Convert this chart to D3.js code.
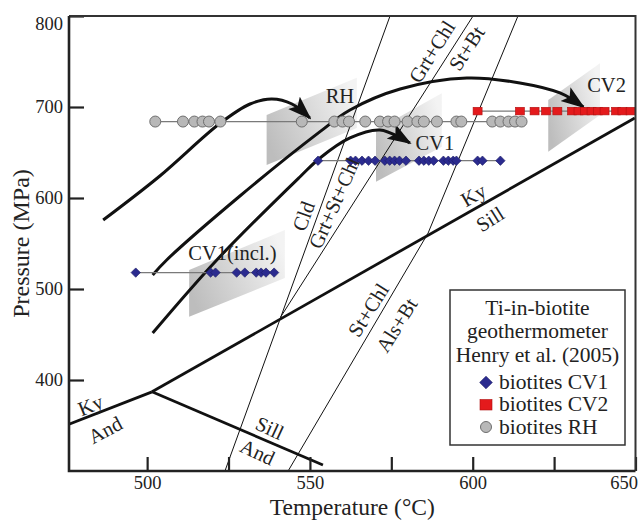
<!DOCTYPE html>
<html>
<head>
<meta charset="utf-8">
<script src="https://cdn.jsdelivr.net/npm/d3@7"></script>
<style>
  html, body { margin: 0; padding: 0; background: #fff; }
  svg { display: block; font-family: "Liberation Serif", "Times New Roman", serif; }
</style>
</head>
<body>
<svg id="chart" width="638" height="521"></svg>
<script>
// Ti-in-biotite temperatures (°C) for each group and the pressure (MPa) the row is plotted at
const rhTemps = [502.5, 511, 514.5, 517, 519, 522.5, 547.5, 557.5, 560, 562, 567, 571.5, 574, 576,
                 580, 583, 585, 589, 595, 596.5, 606, 608.5, 611, 613, 615];
const rhPressure = 684;
const cv1Temps = [552.5, 562.5, 564, 566, 568, 570, 573, 574.5, 576, 577.5, 579.5, 583.5, 585, 586.5,
                  588, 591, 592.5, 594, 595, 601.5, 603, 608.5];
const cv1Pressure = 641;
const cv1InclTemps = [496.5, 519.5, 521, 527.5, 530, 533.5, 535, 536.5, 539];
const cv1InclPressure = 518;
const cv2Temps = [601.5, 614.5, 619, 622.5, 626, 630.5, 632.5, 634.5, 636.5, 638.5, 640.5, 644, 646, 648.5];
const cv2Pressure = 695.5;

// Axis ticks and labels
const tempTicks = [500, 525, 550, 575, 600, 625, 650];
const tempLabels = [500, 550, 600, 650];
const pressureTicks = [400, 500, 600, 700, 800];

// Al2SiO5 phase boundaries, [T °C, P MPa]
const kyAnd = [[476, 351.5], [501.5, 387]];
const kySill = [[501.5, 387], [649.8, 687.9]];
const sillAnd = [[501.5, 387], [554, 306.6]];

// Reaction lines, [T, P]
const cldReaction = [[523.9, 300], [574.6, 800]];
const grtChlReaction = [[541, 469.2], [600.1, 800]];
const stChlReaction = [[543.3, 300], [586.3, 561.5], [613.9, 800]];

// P–T paths, [T, P]
const pathRH = [[486.5, 575.8], [503.9, 624.2], [522.4, 682.1], [531.6, 703.3], [538.3, 708.8], [544.5, 703.3], [550, 687.9]];
const pathCV2 = [[501.7, 515.4], [506, 531.9], [528.5, 602.2], [553.1, 672.9], [562.3, 696.7], [577.7, 719.8],
                 [598.2, 731.9], [614.5, 726.4], [626.8, 715.4], [634, 700]];
const pathCV1 = [[501.7, 451.6], [521.4, 531.9], [546.9, 623.1], [553.1, 644], [562.3, 666], [571.5, 674.7], [580.7, 660.4]];

// Shaded fields around each temperature group, [T, P] corners
const shadeRH = [[536.7, 691.2], [564.4, 732.2], [564.4, 676.9], [536.7, 636.3]];
const shadeCV1 = [[570.3, 674.7], [590.5, 715.1], [590.5, 656.4], [570.3, 617.9]];
const shadeCV2 = [[623.2, 707.7], [639.1, 748.0], [639.1, 691.2], [623.2, 650.9]];
const shadeCV1incl = [[512.9, 520.9], [542.3, 564.8], [542.3, 512.1], [512.9, 469.6]];

// Field and reaction labels, [T, P] centre and rotation
const labels = [
  { text: "RH", t: 559.2, p: 712.1, a: 0 },
  { text: "CV1", t: 588.4, p: 660.4, a: 0 },
  { text: "CV2", t: 641.1, p: 724.2, a: 0 },
  { text: "CV1(incl.)", t: 526.2, p: 539.6, a: 0 },
  { text: "Cld", t: 548.0, p: 580.2, a: -70 },
  { text: "Grt+St+Chl", t: 557.4, p: 594.5, a: -66 },
  { text: "Grt+Chl", t: 587.4, p: 760.8, a: -58 },
  { text: "St+Bt", t: 598.1, p: 764.5, a: -57 },
  { text: "Ky", t: 600.2, p: 603.3, a: -30 },
  { text: "Sill", t: 605.3, p: 576.9, a: -32 },
  { text: "Ky", t: 482.6, p: 372.5, a: -22 },
  { text: "And", t: 487.1, p: 345.1, a: -28 },
  { text: "Sill", t: 537.7, p: 347.3, a: 25 },
  { text: "And", t: 533.9, p: 320.9, a: 25 },
  { text: "St+Chl", t: 567.9, p: 476.9, a: -58 },
  { text: "Als+Bt", t: 576.6, p: 460.4, a: -58 }
];

const serif = "Liberation Serif, Times New Roman, serif";
const svg = d3.select("#chart");
const x = d3.scaleLinear().domain([476, 650]).range([69, 635.5]);
const y = d3.scaleLinear().domain([300, 800]).range([471, 16]);
const ink = "#222";

const defs = svg.append("defs");
defs.append("clipPath").attr("id", "plot-clip")
  .append("rect").attr("x", 69).attr("y", 16).attr("width", 566.5).attr("height", 455);

const grad = defs.append("linearGradient").attr("id", "shade")
  .attr("x1", 0).attr("y1", 0.7).attr("x2", 1).attr("y2", 0.3);
grad.append("stop").attr("offset", "0%").attr("stop-color", "#bdbdbd");
grad.append("stop").attr("offset", "100%").attr("stop-color", "#f3f3f3");

defs.append("marker").attr("id", "arrow")
  .attr("viewBox", "0 -9 24 18").attr("refX", 22).attr("refY", 0)
  .attr("markerWidth", 24).attr("markerHeight", 18)
  .attr("markerUnits", "userSpaceOnUse").attr("orient", "auto")
  .append("path").attr("d", "M0,-8.5L24,0L0,8.5L5,0Z").attr("fill", "#111");

const plot = svg.append("g").attr("clip-path", "url(#plot-clip)");
const pt = d => [x(d[0]), y(d[1])];

// shaded fields
plot.selectAll("polygon.shade")
  .data([shadeRH, shadeCV1, shadeCV2, shadeCV1incl])
  .join("polygon").attr("class", "shade")
  .attr("points", d => d.map(pt).map(p => p.join(",")).join(" "))
  .attr("fill", "url(#shade)");

// labels
svg.append("g").selectAll("text").data(labels).join("text")
  .attr("transform", d => `translate(${x(d.t)},${y(d.p)}) rotate(${d.a})`)
  .attr("text-anchor", "middle").attr("dy", "0.35em")
  .attr("font-family", serif).attr("font-size", 20.5).attr("fill", ink)
  .text(d => d.text);

const straight = d3.line().x(d => x(d[0])).y(d => y(d[1]));

// reaction lines
plot.selectAll("path.rxn")
  .data([cldReaction, grtChlReaction, stChlReaction])
  .join("path").attr("class", "rxn")
  .attr("d", straight).attr("fill", "none").attr("stroke", "#111").attr("stroke-width", 1);

// Al2SiO5 boundaries
plot.selectAll("path.als")
  .data([kyAnd, kySill, sillAnd])
  .join("path").attr("class", "als")
  .attr("d", straight).attr("fill", "none").attr("stroke", "#111")
  .attr("stroke-width", 2.8).attr("stroke-linejoin", "round");

// P–T paths with arrowheads
const smooth = d3.line().x(d => x(d[0])).y(d => y(d[1])).curve(d3.curveCatmullRom.alpha(0.5));
plot.selectAll("path.ptt")
  .data([pathRH, pathCV2, pathCV1])
  .join("path").attr("class", "ptt")
  .attr("d", smooth).attr("fill", "none").attr("stroke", "#111")
  .attr("stroke-width", 3).attr("marker-end", "url(#arrow)");

// data rows
function rowLine(temps, p) {
  plot.append("line")
    .attr("x1", x(d3.min(temps))).attr("x2", x(d3.max(temps)))
    .attr("y1", y(p)).attr("y2", y(p))
    .attr("stroke", "#7a7a7a").attr("stroke-width", 1.2);
}
rowLine(rhTemps, rhPressure);
rowLine(cv1Temps, cv1Pressure);
rowLine(cv1InclTemps, cv1InclPressure);
rowLine(cv2Temps, cv2Pressure);

plot.append("g").selectAll("circle").data(rhTemps).join("circle")
  .attr("cx", d => x(d)).attr("cy", y(rhPressure)).attr("r", 5.5)
  .attr("fill", "#b8b8b8").attr("stroke", "#6e6e6e").attr("stroke-width", 1);

const diamond = d3.symbol().type(d3.symbolSquare).size(44);
plot.append("g").selectAll("path").data(cv1Temps.map(t => [t, cv1Pressure]).concat(cv1InclTemps.map(t => [t, cv1InclPressure])))
  .join("path")
  .attr("transform", d => `translate(${x(d[0])},${y(d[1])}) rotate(45)`)
  .attr("d", diamond).attr("fill", "#2b2b8f").attr("stroke", "#1c1c66").attr("stroke-width", 0.6);

plot.append("g").selectAll("rect").data(cv2Temps).join("rect")
  .attr("x", d => x(d) - 4.5).attr("y", y(cv2Pressure) - 3.8)
  .attr("width", 9).attr("height", 7.6)
  .attr("fill", "#e41a1c").attr("stroke", "#b01010").attr("stroke-width", 0.6);

// axes
const xAxis = d3.axisBottom(x).tickValues(tempTicks).tickSizeInner(-14).tickSizeOuter(0).tickPadding(5)
  .tickFormat(d => tempLabels.includes(d) ? d : "");
const gx = svg.append("g").attr("transform", "translate(0,471)").call(xAxis);
const yAxis = d3.axisLeft(y).tickValues(pressureTicks).tickSizeInner(-15).tickSizeOuter(0).tickPadding(6);
const gy = svg.append("g").attr("transform", "translate(69,0)").call(yAxis);
[gx, gy].forEach(g => {
  g.attr("font-family", serif);
  g.select(".domain").remove();
  g.selectAll(".tick line").attr("stroke", ink).attr("stroke-width", 2.2);
  g.selectAll(".tick text").attr("font-size", 18.5).attr("fill", ink).attr("font-family", serif);
});
gy.selectAll(".tick").filter(d => d === 800).select("text").attr("dy", "0.72em");
gx.selectAll(".tick").filter(d => d === 650).select("text").attr("dx", -12);

// frame
svg.append("path")
  .attr("d", "M69,16H635.5V471")
  .attr("fill", "none").attr("stroke", "#333").attr("stroke-width", 2);
svg.append("path")
  .attr("d", "M69,16V471H635.5")
  .attr("fill", "none").attr("stroke", ink).attr("stroke-width", 2.6);

// axis titles
svg.append("text").attr("x", 352.3).attr("y", 515).attr("text-anchor", "middle")
  .attr("font-family", serif).attr("font-size", 23.5).attr("fill", ink).text("Temperature (°C)");
svg.append("text").attr("transform", "translate(29,243.5) rotate(-90)").attr("text-anchor", "middle")
  .attr("font-family", serif).attr("font-size", 24).attr("fill", ink).text("Pressure (MPa)");

// legend
const lg = svg.append("g").attr("font-family", serif);
lg.append("rect").attr("x", 450).attr("y", 290).attr("width", 175).attr("height", 155)
  .attr("fill", "#fff").attr("stroke", "#333").attr("stroke-width", 1.5);
const titleLines = ["Ti-in-biotite", "geothermometer", "Henry et al. (2005)"];
lg.selectAll("text.title").data(titleLines).join("text").attr("class", "title")
  .attr("x", 537.5).attr("y", (d, i) => 315 + i * 23.3).attr("text-anchor", "middle")
  .attr("font-size", 21.5).attr("fill", ink).text(d => d);
const items = ["biotites CV1", "biotites CV2", "biotites RH"];
lg.selectAll("text.item").data(items).join("text").attr("class", "item")
  .attr("x", 499).attr("y", (d, i) => 388.5 + i * 22.5)
  .attr("font-size", 21.5).attr("fill", ink).text(d => d);
lg.append("path").attr("transform", "translate(486,382.5) rotate(45)")
  .attr("d", d3.symbol().type(d3.symbolSquare).size(80)).attr("fill", "#2b2b8f").attr("stroke", "#1c1c66").attr("stroke-width", 0.6);
lg.append("rect").attr("x", 480).attr("y", 399.5).attr("width", 12).attr("height", 10.5)
  .attr("fill", "#e41a1c").attr("stroke", "#b01010").attr("stroke-width", 0.6);
lg.append("circle").attr("cx", 486).attr("cy", 427).attr("r", 5.5)
  .attr("fill", "#b8b8b8").attr("stroke", "#6e6e6e").attr("stroke-width", 1);
</script>
</body>
</html>
